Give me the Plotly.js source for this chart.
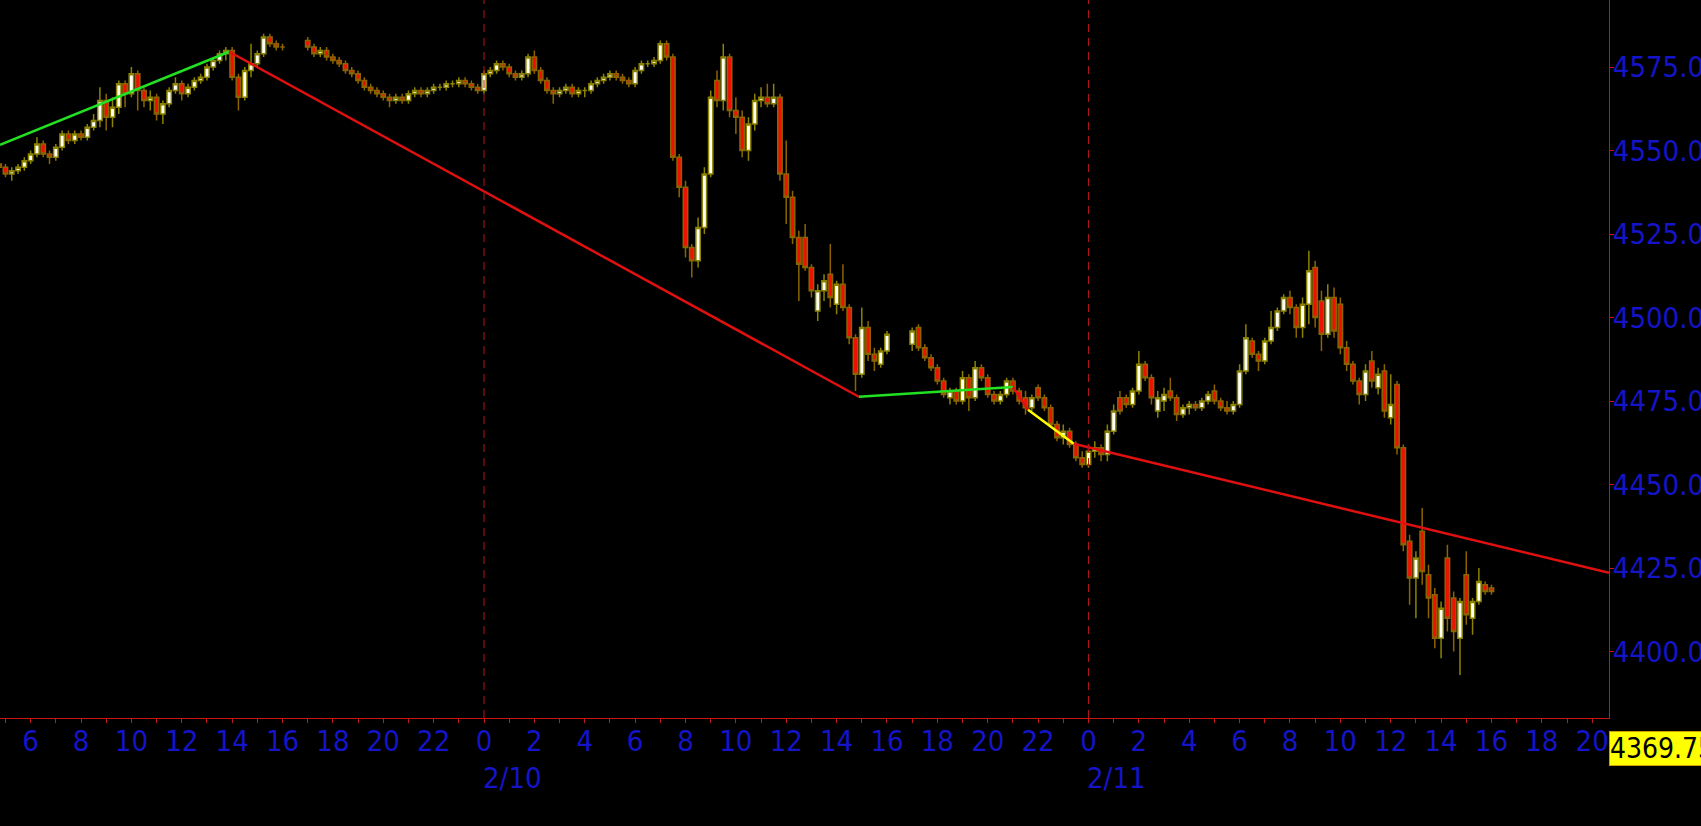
<!DOCTYPE html>
<html>
<head>
<meta charset="utf-8">
<script src="https://cdn.plot.ly/plotly-3.0.1.min.js"></script>
<style>
  html, body { margin: 0; padding: 0; background: #000; }
  #chart { width: 1701px; height: 826px; }
</style>
</head>
<body>
<div id="chart"></div>
<script>
// ---- Data (15-minute candles: [open, high, low, close]) ----
const segAStart = '2022-02-09 04:45';
const segA = [
  [4546,4547,4543,4545],[4545,4546,4542,4543],[4543,4545,4541,4544],[4544,4546,4543,4545],
  [4545,4548,4544,4547],[4547,4550,4546,4549],[4549,4554,4548,4552],[4552,4553,4548,4549],
  [4549,4550,4546,4548],[4548,4552,4547,4551],[4551,4556,4550,4555],[4555,4556,4552,4553],
  [4553,4556,4552,4555],[4555,4556,4553,4554],[4554,4558,4553,4557],[4557,4561,4556,4559],
  [4559,4569,4557,4565],[4565,4567,4556,4560],[4560,4566,4557,4563],[4563,4571,4561,4570],
  [4570,4571,4563,4567],[4567,4575,4566,4573],[4573,4574,4562,4568],[4568,4569,4563,4565],
  [4565,4568,4562,4566],[4566,4567,4559,4561],[4561,4565,4558,4564],[4564,4569,4563,4568],
  [4568,4572,4567,4570],[4570,4571,4565,4567],[4567,4570,4566,4569],[4569,4572,4568,4571],
  [4571,4573,4570,4572],[4572,4576,4571,4575],[4575,4578,4574,4577],[4577,4580,4576,4579],
  [4579,4581,4577,4580],[4580,4581,4571,4572],[4572,4573,4562,4566],[4566,4575,4565,4574],
  [4574,4582,4572,4576],[4576,4580,4575,4579],[4579,4585,4578,4584],[4584,4585,4581,4582],
  [4582,4583,4580,4581],[4581,4582,4580,4581]
];
const segBStart = '2022-02-09 17:00';
const segB = [
  [4583,4584,4580,4581],[4581,4582,4578,4579],[4579,4581,4578,4580],[4580,4581,4577,4578],
  [4578,4579,4576,4577],[4577,4578,4575,4576],[4576,4577,4573,4574],[4574,4575,4572,4573],
  [4573,4574,4570,4571],[4571,4572,4568,4569],[4569,4570,4567,4568],[4568,4569,4566,4567],
  [4567,4568,4565,4566],[4566,4567,4563,4565],[4565,4567,4564,4566],[4566,4567,4564,4565],
  [4565,4568,4564,4567],[4567,4569,4566,4568],[4568,4569,4566,4567],[4567,4569,4566,4568],
  [4568,4570,4567,4569],[4569,4570,4568,4569],[4569,4571,4568,4570],[4570,4571,4569,4570],
  [4570,4572,4569,4571],[4571,4572,4569,4570],[4570,4571,4568,4569],[4569,4570,4567,4568],
  [4568,4574,4567,4573],[4573,4575,4572,4574],[4574,4577,4573,4576],[4576,4577,4574,4575],
  [4575,4576,4572,4573],[4573,4574,4571,4572],[4572,4574,4571,4573],[4573,4579,4572,4578],
  [4578,4580,4573,4574],[4574,4575,4570,4571],[4571,4572,4567,4568],[4568,4569,4564,4567],
  [4567,4569,4566,4568],[4568,4570,4567,4569],[4569,4570,4566,4567],[4567,4569,4566,4568],
  [4568,4569,4566,4568],[4568,4571,4567,4570],[4570,4572,4569,4571],[4571,4573,4570,4572],
  [4572,4574,4571,4573],[4573,4574,4571,4572],[4572,4573,4570,4571],[4571,4572,4569,4570],
  [4570,4575,4569,4574],[4574,4577,4573,4576],[4576,4577,4575,4576],[4576,4578,4575,4577],
  [4577,4583,4576,4582],[4582,4583,4577,4578],[4578,4579,4547,4548],[4548,4549,4536,4539],
  [4539,4541,4518,4521],[4521,4522,4512,4517],[4517,4530,4515,4527],[4527,4545,4525,4543],
  [4543,4568,4542,4566],[4571,4574,4563,4565],[4565,4582,4562,4578],[4578,4579,4560,4562],
  [4562,4566,4555,4560],[4560,4562,4548,4550],[4550,4560,4547,4558],[4558,4567,4556,4565],
  [4565,4569,4563,4566],[4566,4570,4563,4564],[4564,4570,4563,4566],[4566,4567,4541,4543],
  [4543,4553,4528,4536],[4536,4538,4522,4524],[4524,4526,4505,4516],[4524,4528,4514,4515],
  [4515,4516,4506,4508],[4502,4510,4499,4508],[4508,4513,4505,4511],[4513,4522,4503,4506],
  [4504,4511,4501,4510],[4510,4516,4502,4503],[4503,4504,4492,4494],[4494,4495,4478,4483],
  [4483,4503,4482,4497],[4497,4499,4487,4489],[4489,4491,4484,4487],[4486,4491,4485,4490],
  [4490,4496,4489,4495]
];
const segCStart = '2022-02-10 17:00';
const segC = [
  [4492,4497,4490,4496],[4497,4498,4490,4491],[4491,4492,4487,4488],[4488,4489,4484,4485],
  [4485,4486,4480,4481],[4481,4482,4476,4477],[4476,4479,4474,4478],[4478,4479,4474,4475],
  [4475,4484,4474,4482],[4482,4483,4472,4476],[4476,4487,4475,4485],[4485,4486,4481,4482],
  [4482,4483,4476,4477],[4477,4478,4474,4475],[4475,4478,4474,4477],[4477,4482,4476,4481],
  [4481,4482,4477,4478],[4478,4479,4474,4475],[4476,4478,4471,4473],[4473,4477,4472,4476],
  [4479,4480,4475,4476],[4476,4477,4472,4473],[4473,4474,4467,4468],[4468,4469,4463,4464],
  [4464,4468,4462,4466],[4466,4467,4461,4462],[4462,4463,4457,4458],[4458,4460,4455,4456],
  [4456,4462,4455,4460],[4460,4463,4458,4461],[4461,4462,4457,4459],[4459,4468,4457,4466],
  [4466,4474,4465,4472],[4476,4478,4471,4472],[4476,4477,4473,4474],[4474,4479,4473,4478],
  [4478,4490,4477,4486],[4486,4487,4481,4482],[4482,4483,4474,4476],[4472,4478,4470,4476],
  [4475,4479,4472,4477],[4478,4482,4475,4476],[4476,4477,4469,4471],[4471,4474,4470,4473],
  [4473,4475,4471,4474],[4474,4475,4472,4473],[4473,4476,4472,4475],[4475,4478,4474,4477],
  [4478,4480,4474,4475],[4475,4476,4472,4473],[4473,4475,4471,4472],[4472,4475,4471,4474],
  [4474,4486,4473,4484],[4484,4498,4483,4494],[4493,4494,4488,4489],[4489,4490,4484,4487],
  [4487,4494,4486,4493],[4493,4502,4492,4497],[4497,4503,4496,4502],[4502,4507,4501,4506],
  [4506,4508,4501,4503],[4503,4504,4494,4497],[4497,4506,4494,4504],[4504,4520,4498,4514],
  [4515,4517,4497,4500],[4505,4508,4490,4495],[4495,4510,4494,4506],[4506,4509,4494,4496],
  [4504,4506,4489,4491],[4491,4493,4484,4486],[4486,4487,4480,4481],[4481,4482,4474,4477],
  [4477,4486,4475,4484],[4487,4490,4479,4481],[4479,4485,4477,4483],[4484,4486,4470,4472],
  [4470,4483,4468,4474],[4480,4481,4459,4461],[4461,4462,4430,4432],[4433,4435,4414,4422],
  [4422,4430,4410,4428],[4436,4443,4420,4424],[4423,4426,4410,4416],[4417,4419,4401,4404],
  [4404,4415,4398,4413],[4428,4432,4406,4410],[4416,4418,4400,4406],[4404,4416,4393,4415],
  [4423,4430,4408,4411],[4410,4416,4405,4415],[4415,4425,4414,4421],[4420,4421,4417,4418],
  [4419,4420,4417,4418]
];

// Trend lines drawn on the chart
const greenLine1X = ['2022-02-09 04:47', '2022-02-09 13:53'];
const greenLine1Y = [4551.7, 4579.6];
const redLine1X = ['2022-02-09 13:53', '2022-02-10 14:53'];
const redLine1Y = [4579.6, 4476.3];
const greenLine2X = ['2022-02-10 14:53', '2022-02-10 21:00'];
const greenLine2Y = [4476.3, 4479.2];
const redShortX = ['2022-02-10 21:00', '2022-02-10 21:36'];
const redShortY = [4479.2, 4472.4];
const yellowLineX = ['2022-02-10 21:36', '2022-02-10 23:25'];
const yellowLineY = [4472.4, 4462.2];
const redLine2X = ['2022-02-10 23:25', '2022-02-11 20:40'];
const redLine2Y = [4462.2, 4423.6];

// Axis / labels
const xRange = ['2022-02-09 04:47', '2022-02-11 20:40'];
const yRange = [4380.1, 4595.1];
const yTicks = [4400, 4425, 4450, 4475, 4500, 4525, 4550, 4575];
const dayBreaks = ['2022-02-10 00:00', '2022-02-11 00:00'];
const dayLabels = ['2/10', '2/11'];
const priceTag = '4369.75';

// ---- Build ----
function pad(n) { return (n < 10 ? '0' : '') + n; }
function times(start, n) {
  const [d, t] = start.split(' ');
  const [Y, M, D] = d.split('-').map(Number);
  const [h, m] = t.split(':').map(Number);
  const base = Date.UTC(Y, M - 1, D, h, m);
  const out = [];
  for (let i = 0; i < n; i++) {
    const dt = new Date(base + i * 15 * 60000);
    out.push(dt.getUTCFullYear() + '-' + pad(dt.getUTCMonth() + 1) + '-' + pad(dt.getUTCDate()) + ' ' +
             pad(dt.getUTCHours()) + ':' + pad(dt.getUTCMinutes()));
  }
  return out;
}
const segs = [[segAStart, segA], [segBStart, segB], [segCStart, segC]];
let X = [], O = [], H = [], L = [], C = [];
segs.forEach(([s, rows]) => {
  X = X.concat(times(s, rows.length));
  rows.forEach(r => { O.push(r[0]); H.push(r[1]); L.push(r[2]); C.push(r[3]); });
});

const lineTrace = (x, y, color) => ({
  type: 'scatter', mode: 'lines', x: x, y: y,
  line: { color: color, width: 2.5 }, hoverinfo: 'skip', showlegend: false
});

const data = [
  {
    type: 'candlestick', x: X, open: O, high: H, low: L, close: C,
    increasing: { line: { color: '#8a8200', width: 1.5 }, fillcolor: '#fffff4' },
    decreasing: { line: { color: '#8a6400', width: 1.5 }, fillcolor: '#f01000' },
    whiskerwidth: 0, hoverinfo: 'skip', showlegend: false
  },
  lineTrace(greenLine1X, greenLine1Y, '#22e022'),
  lineTrace(redLine1X, redLine1Y, '#e01010'),
  lineTrace(greenLine2X, greenLine2Y, '#22e022'),
  lineTrace(redShortX, redShortY, '#e01010'),
  lineTrace(yellowLineX, yellowLineY, '#ffff00'),
  lineTrace(redLine2X, redLine2Y, '#e01010')
];

const axisRed = '#c81414';
const blue = '#1414c8';
const fontFam = "'DejaVu Sans Condensed', 'Liberation Sans', Arial, sans-serif";
const layout = {
  width: 1701, height: 826, autosize: false,
  paper_bgcolor: '#000', plot_bgcolor: '#000',
  margin: { l: 0, r: 92, t: 0, b: 108, pad: 0 },
  showlegend: false,
  boxgap: 0,
  xaxis: {
    type: 'date', range: xRange, rangeslider: { visible: false },
    showgrid: false, zeroline: false,
    showline: true, linecolor: axisRed, linewidth: 1,
    ticks: 'outside', ticklen: 4, tickcolor: axisRed,
    tick0: '2022-02-09 00:00', dtick: 7200000, tickformat: '%-H',
    minor: { dtick: 3600000, ticks: 'outside', ticklen: 4, tickcolor: axisRed, showgrid: false },
    ticklabelstandoff: -7,
    tickfont: { family: fontFam, size: 29, color: blue }
  },
  yaxis: {
    side: 'right', range: yRange,
    tickvals: yTicks, ticktext: yTicks.map(v => v.toFixed(2)),
    showgrid: false, zeroline: false,
    showline: true, linecolor: axisRed, linewidth: 1,
    ticks: 'outside', ticklen: 4, tickcolor: axisRed,
    ticklabelstandoff: -7,
    tickfont: { family: fontFam, size: 29, color: blue }
  },
  shapes: dayBreaks.map(d => ({
    type: 'line', xref: 'x', yref: 'paper', x0: d, x1: d, y0: 0, y1: 1,
    line: { color: '#b41414', width: 1, dash: '8px,6px' }
  })),
  annotations: dayLabels.map((t, i) => ({
    xref: 'x', yref: 'paper', x: dayBreaks[i], y: -0.083,
    text: t, showarrow: false, xanchor: 'left', yanchor: 'middle', xshift: -3,
    font: { family: fontFam, size: 29, color: blue }
  })).concat([{
    xref: 'paper', yref: 'paper', x: 1, y: -0.042, xanchor: 'left', yanchor: 'middle',
    text: priceTag, showarrow: false, bgcolor: '#ffff00', bordercolor: '#c8a000', borderwidth: 1,
    borderpad: 0, font: { family: fontFam, size: 28, color: '#000' }
  }])
};

Plotly.newPlot('chart', data, layout, { staticPlot: true, displayModeBar: false });
</script>
</body>
</html>
